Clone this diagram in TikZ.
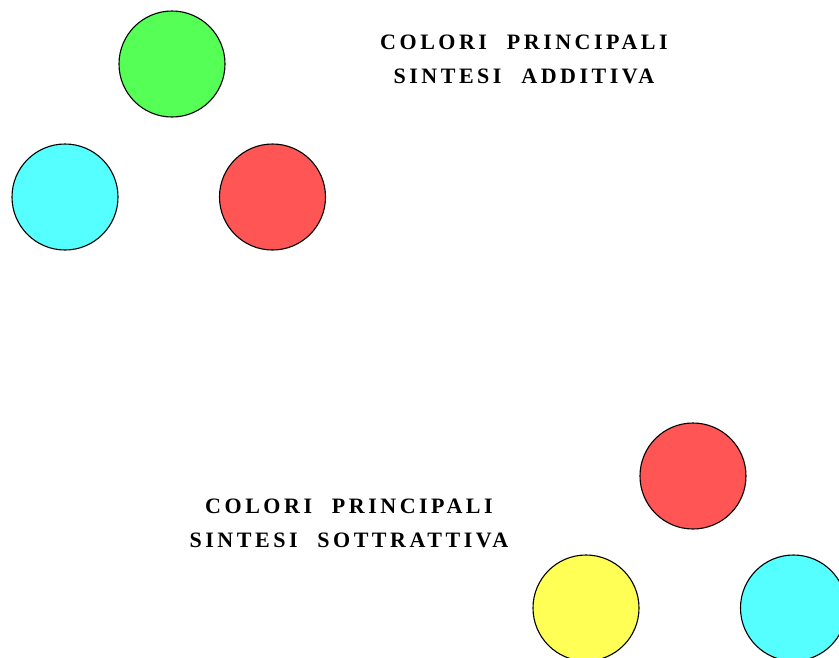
\documentclass[tikz,border=0pt]{standalone}
\usepackage{fontspec}
\usepackage{xcolor}
\usepackage{tikz}
\usetikzlibrary{positioning}
\newfontfamily\titlefont[LetterSpace=16,WordSpace=2.2]{Liberation Serif}
\definecolor{discGreen}{RGB}{85,255,85}
\definecolor{discCyan}{RGB}{85,255,255}
\definecolor{discRed}{RGB}{255,85,85}
\definecolor{discYellow}{RGB}{255,255,85}
\tikzset{
  disc/.style={circle, draw=black, line width=1.1pt, minimum size=106pt, inner sep=0pt},
  title/.style={align=center, text=black, font=\titlefont\bfseries\fontsize{22}{34}\selectfont}
}
\begin{document}
\begin{tikzpicture}[x=1pt,y=-1pt]
\useasboundingbox[fill=white] (0,0) rectangle (839,657);
% additive primaries
\node[disc, fill=discGreen] (addG) at (172,64) {};
\node[disc, fill=discCyan] (addC) at (65,197) {};
\node[disc, fill=discRed] (addR) at (272.5,197) {};
\node[title] (addTitle) at (524,59.5) {COLORI PRINCIPALI\\SINTESI ADDITIVA};
% subtractive primaries
\node[disc, fill=discRed] (subR) at (693,476) {};
\node[disc, fill=discYellow] (subY) at (586,608) {};
\node[disc, fill=discCyan] (subC) at (793.5,608) {};
\node[title] (subTitle) at (349,523) {COLORI PRINCIPALI\\SINTESI SOTTRATTIVA};
\end{tikzpicture}
\end{document}
